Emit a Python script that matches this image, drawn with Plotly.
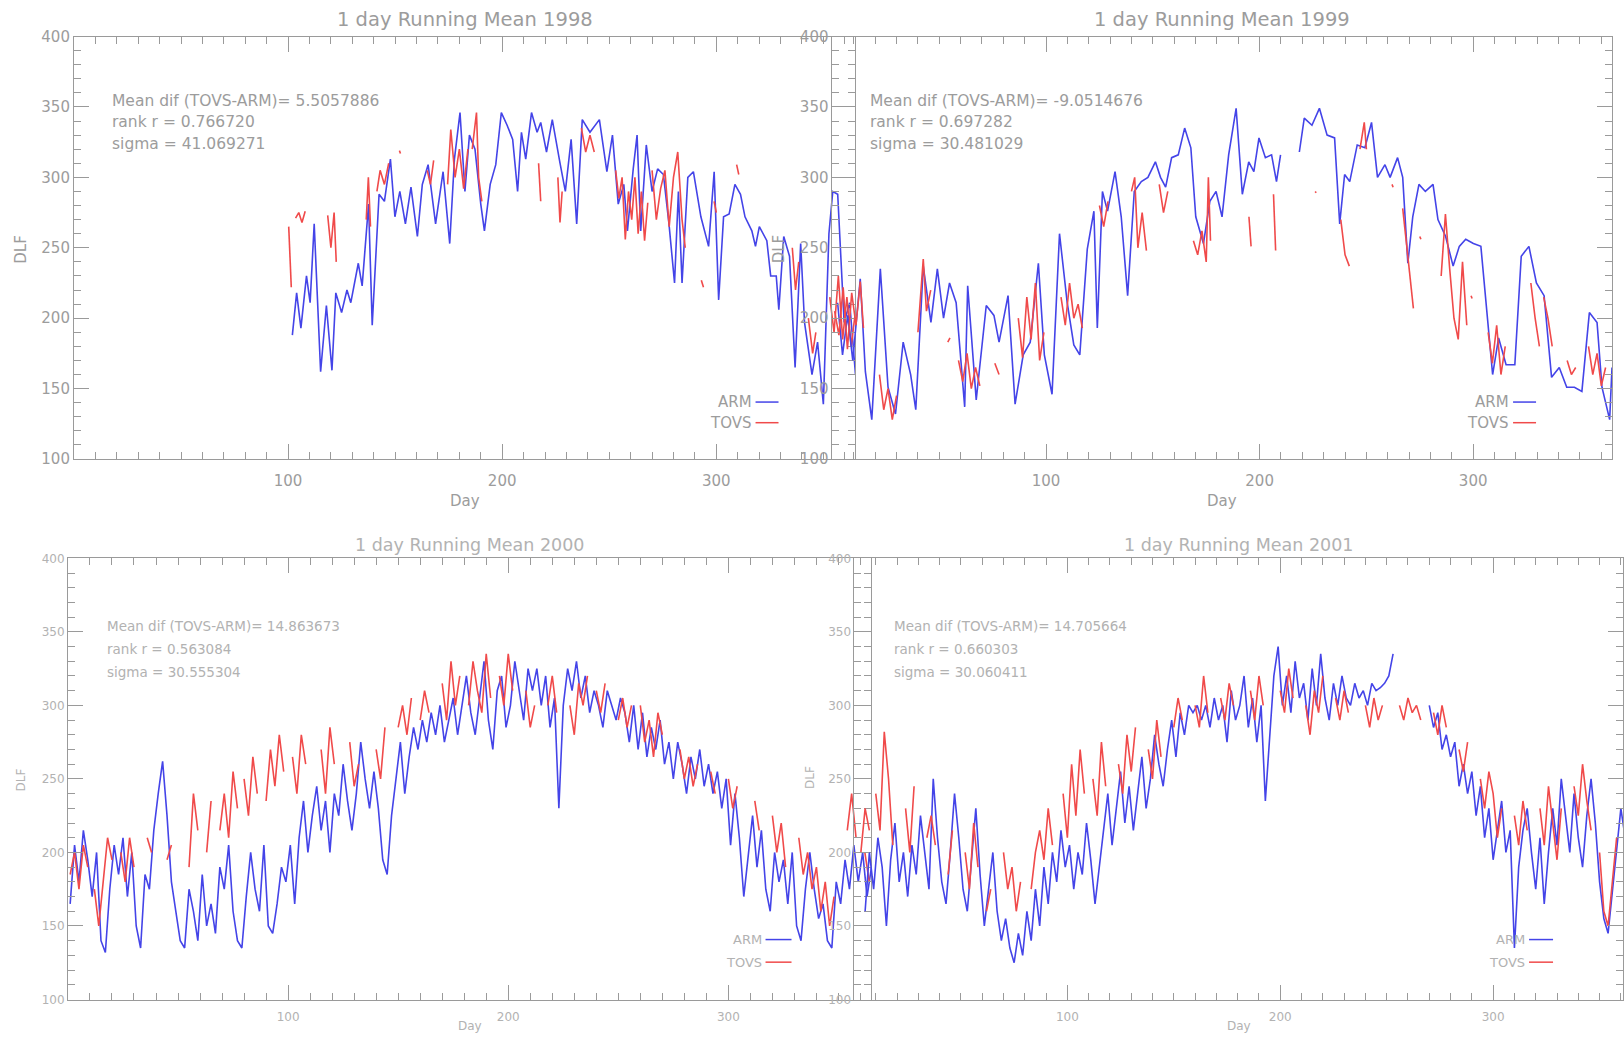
import plotly.graph_objects as go

W, H = 1624, 1037

# ---------------- data (day, DLF) ; None = gap ----------------
arm_1998 = [(102,188),(104,218),(106,193),(108.6,230),(110.3,211),(112.2,267),(115.2,162),(117.9,209),(120.5,163),(122.3,218),(125,204),(127.5,220),(129.3,211),(132.8,239),(134.6,223),(137.6,281),(139.3,195),(142.5,288),(145,283),(147.8,313),(149.9,272),(152.2,290),(154.8,267),(157.4,293),(160.4,258),(162.7,295),(165.4,309),(168.9,267),(172.4,304),(175.5,253),(177.7,313),(180.3,346),(182.6,290),(184.7,330),(187.3,320),(190,281),(191.7,262),(194.4,295),(197,309),(199.6,346),(202.3,337),(204.9,327),(207.2,290),(209,332),(211,313),(213.7,346),(216.3,332),(218,339),(220.7,318),(223.4,341),(226.9,311),(229.5,290),(232.2,327),(234.8,267),(237.4,341),(241,332),(245.4,341),(248.9,304),(251.5,330),(254.2,281),(256.8,295),(258.5,262),(261.2,306),(263,330),(264.7,262),(267.3,323),(270,290),(272.6,306),(275.3,302),(277.9,267),(280.5,225),(282.3,290),(284,225),(286.7,300),(289.3,304),(292.8,272),(296.4,251),(299,304),(301.1,213),(303.4,272),(306,274),(308.7,295),(311.3,288),(313.4,272),(316.6,262),(318.3,251),(320.1,265),(323.6,255),(325.4,230),(328,230),(329.2,206),(331.5,258),(334.2,244),(336.8,165),(339.4,253),(341.2,197),(344.7,160),(347.3,183),(350,139),(352.6,260),(354.4,290),(356.7,288),(359.7,197),(362.3,211),(365,160)]

tovs_1998 = [(100.3,265),(101.5,222),None,(103.5,271),(105,275),(106.5,268),(108,276),None,(118.5,273),(120,250),(121.5,275),(122.5,240),None,(136.5,270),(137.5,300),(138.5,265),None,(141.5,290),(143,305),(145,295),(147,310),None,(152,319),(152.5,317),None,(165,305),(166.5,295),(168,312),None,(174.5,295),(176,334),(178,300),(180,320),(182,292),(184,320),None,(186,320),(188,346),(189,300),(190.5,283),None,(217,310),(218,283),None,(226,300),(227,268),(228,290),None,(237,335),(239,318),(241,330),(243,318),None,(253,305),(254.5,285),(256,300),(257.5,256),(259,290),(260.5,270),(262,300),(263.5,260),(265,290),(266.5,255),(268,282),None,(270,305),(272,270),(274,292),(276,305),(278,265),(280,300),(282,318),(284,270),(285.5,250),None,(293,227),(294,222),None,(299,283),(300,275),None,(309.5,309),(310.5,302),None,(335.5,250),(337,220),(338.5,240),None,(343,200),(345,175),(346.5,190),None,(353,215),(355,190),(357,230),(359,185),(361,215),(363,180),(365,205)]

arm_1999 = [(2.4,211),(4.7,174),(7.1,202),(9.5,170),(13,228),(15.4,162),(18.4,128),(22.4,235),(26,151),(29.5,132),(33.1,183),(36.6,160),(39,135),(42.5,237),(46.1,197),(49.1,235),(52,200),(54.8,225),(57.9,211),(61.9,137),(63.3,223),(67.3,142),(72,209),(75.6,202),(78,183),(82.2,216),(85.5,139),(89.3,174),(92.6,183),(96.4,239),(99.2,174),(102.8,146),(106.3,260),(109.9,211),(113,181),(115.8,174),(119.3,249),(122.4,276),(124,193),(126.4,290),(128.8,276),(132.3,304),(135.2,272),(138.2,216),(141.3,290),(144.6,297),(147.7,300),(151.2,311),(153.6,300),(156,293),(158.8,314),(161.9,316),(164.9,335),(167.8,321),(170.1,272),(173.7,253),(176.7,283),(179.6,290),(182.4,272),(185.5,316),(189,349),(191.9,288),(194.9,311),(197.3,304),(199.7,328),(202.7,314),(205.6,316),(207.9,297),(209.8,316),None,(218.6,318),(220.9,342),(224.5,337),(228,349),(231.6,330),(235.1,328),(237.5,267),(239.8,302),(242.2,297),(245.7,323),(249.3,321),(252.4,339),(255.2,300),(258.7,309),(261.1,300),(264.6,314),(267,300),(269.4,239),(271.7,272),(274.6,295),(277.6,290),(281.2,295),(283.5,270),(287.1,258),(290.6,237),(293.5,251),(296.5,256),(300.1,253),(303.6,251),(306,211),(309.1,160),(311.9,186),(315.4,167),(319.5,167),(322.5,244),(326.1,251),(329.6,225),(333.2,216),(336.7,158),(340.3,165),(343.8,151),(347.4,151),(350.9,148),(354.4,204),(358,197),(360.3,151),(363.9,128),(365,165)]

tovs_1999 = [(1,205),(3,188),(5,222),(7,178),(9,218),(11,195),(13,226),(14.5,193),None,(22,160),(24,135),(26,150),(28,128),(30,145),None,(40,190),(42.5,242),(44,205),(46,220),None,(54,183),(55,186),None,(59,170),(61,155),(63,175),(65,150),(67,165),(69,152),None,(76,168),(78,160),None,(87,200),(89,172),(91,215),(93,185),(95,225),(97,170),(99,190),None,(107,215),(109,195),(111,225),(113,200),(115,210),(117,193),None,(125,280),(127,265),(129,283),None,(140,290),(141.5,300),(143,250),(145,275),(147,248),None,(153,295),(155,275),(157,290),None,(169,255),(171,245),(173,262),(175,240),(176,300),(177,255),None,(195,272),(196,251),None,(206.5,288),(207.5,248),None,(226,290),(226.5,289),None,(238,270),(240,245),(242,237),None,(247,320),(249,339),(250,320),None,(262,295),(262.5,293),None,(267,278),(269,250),(270.5,230),(272,207),None,(275,258),(275.5,256),None,(285,230),(287,274),(289,235),(291,200),(293,185),(295,240),(297,195),None,(299,216),(299.5,214),None,(307,190),(309,168),(311,195),(313,160),(315,180),None,(327,225),(329,200),(331,180),None,(333,215),(335,200),(337,180),None,(344,170),(346,160),(348,165),None,(354,180),(356,160),(358,175),(360,152),(362,165)]

arm_2000 = [(1,165),(3,205),(5,180),(7,215),(9,195),(11,170),(13,200),(15,140),(17,132),(19,175),(21,205),(23,185),(25,210),(27,170),(29,200),(31,150),(33,135),(35,185),(37,175),(39,215),(41,240),(43,262),(45,225),(47,180),(49,160),(51,140),(53,135),(55,175),(57,160),(59,140),(61,185),(63,150),(65,165),(67,145),(69,190),(71,175),(73,205),(75,160),(77,140),(79,135),(81,170),(83,200),(85,175),(87,160),(89,205),(91,150),(93,145),(95,165),(97,190),(99,180),(101,205),(103,165),(105,210),(107,235),(109,200),(111,225),(113,245),(115,215),(117,235),(119,200),(121,240),(123,225),(125,260),(127,235),(129,215),(131,240),(133,275),(135,250),(137,230),(139,255),(141,230),(143,195),(145,185),(147,225),(149,250),(151,275),(153,240),(155,265),(157,285),(159,270),(161,290),(163,275),(165,295),(167,280),(169,300),(171,275),(173,290),(175,305),(177,280),(179,300),(181,320),(183,295),(185,280),(187,305),(189,330),(191,290),(193,270),(195,310),(197,320),(199,285),(201,300),(203,330),(205,310),(207,290),(209,325),(211,310),(213,325),(215,300),(217,320),(219,285),(221,305),(223,230),(225,300),(227,325),(229,310),(231,330),(233,305),(235,320),(237,295),(239,310),(241,300),(243,285),(245,310),(247,300),(249,290),(251,305),(253,295),(255,275),(257,300),(259,270),(261,295),(263,265),(265,285),(267,270),(269,290),(271,260),(273,275),(275,250),(277,275),(279,260),(281,240),(283,265),(285,250),(287,270),(289,245),(291,260),(293,240),(295,255),(297,230),(299,250),(301,205),(303,240),(305,210),(307,170),(309,200),(311,225),(313,190),(315,215),(317,175),(319,160),(321,200),(323,180),(325,195),(327,165),(329,200),(331,150),(333,140),(335,175),(337,200),(339,175),(341,155),(343,165),(345,140),(347,135),(349,180),(351,165),(353,195),(355,175),(357,205),(359,180),(361,200),(363,170),(365,190)]

tovs_2000 = [(1,185),(3,200),(5,175),(7,205),(9,190),None,(12,175),(14,150),(16,180),(18,210),(20,195),None,(24,200),(26,180),(28,210),(30,190),None,(36,210),(38,200),None,(45,195),(47,205),None,(55,190),(57,240),(59,215),None,(63,200),(65,235),None,(69,215),(71,240),(73,210),(75,255),(77,230),None,(80,250),(82,225),(84,265),(86,240),None,(90,235),(92,270),(94,245),(96,280),(98,255),None,(102,265),(104,240),(106,280),(108,260),None,(115,270),(117,240),(119,285),(121,260),None,(128,275),(130,245),(132,260),None,(140,270),(142,250),(144,285),None,(150,285),(152,300),(154,280),(156,305),None,(160,290),(162,310),(164,295),None,(170,315),(172,290),(174,330),(176,300),(178,320),None,(182,300),(184,330),(186,310),(188,295),(190,335),(192,305),None,(196,320),(198,300),(200,335),(202,310),None,(208,310),(210,285),(212,300),None,(218,300),(220,320),(222,295),None,(228,300),(230,280),(232,315),(234,300),(236,320),None,(240,310),(242,295),(244,315),None,(250,290),(252,305),(254,285),(256,300),None,(260,300),(262,275),(264,290),(266,265),(268,295),(270,280),None,(278,270),(280,250),(282,265),(284,245),(286,260),None,(292,255),(294,240),None,(300,250),(302,230),(304,245),None,(312,235),(314,215),None,(320,225),(322,200),(324,220),(326,190),None,(332,210),(334,185),(336,200),(338,175),(340,190),(342,160),(344,180),(346,150),(348,170),None,(354,215),(356,240),(358,210),None,(362,200),(364,180)]

arm_2001 = [(5,160),(7,200),(9,175),(11,210),(13,190),(15,150),(17,195),(19,220),(21,180),(23,200),(25,170),(27,205),(29,185),(31,225),(33,200),(35,175),(37,250),(39,210),(41,180),(43,165),(45,200),(47,240),(49,210),(51,175),(53,160),(55,195),(57,230),(59,185),(61,150),(63,175),(65,200),(67,160),(69,140),(71,155),(73,135),(75,125),(77,145),(79,130),(81,160),(83,140),(85,175),(87,150),(89,190),(91,165),(93,200),(95,180),(97,215),(99,190),(101,205),(103,175),(105,200),(107,185),(109,220),(111,195),(113,165),(115,190),(117,215),(119,240),(121,205),(123,230),(125,255),(127,220),(129,245),(131,215),(133,240),(135,265),(137,230),(139,250),(141,280),(143,260),(145,245),(147,270),(149,290),(151,265),(153,295),(155,280),(157,300),(159,295),(161,300),(163,290),(165,300),(167,285),(169,305),(171,290),(173,300),(175,275),(177,310),(179,290),(181,300),(183,320),(185,285),(187,305),(189,275),(191,300),(193,235),(195,280),(197,320),(199,340),(201,300),(203,320),(205,295),(207,330),(209,305),(211,315),(213,290),(215,325),(217,300),(219,335),(221,305),(223,290),(225,315),(227,300),(229,320),(231,305),(233,300),(235,315),(237,305),(239,310),(241,300),(243,315),(245,310),(247,312),(249,315),(251,320),(253,335),None,(270,300),(272,285),(274,295),(276,270),(278,280),(280,265),(282,275),(284,245),(286,260),(288,240),(290,255),(292,225),(294,245),(296,210),(298,230),(300,195),(302,215),(304,235),(306,200),(308,215),(310,135),(312,190),(314,215),(316,230),(318,200),(320,175),(322,210),(324,165),(326,200),(328,230),(330,205),(332,250),(334,225),(336,200),(338,240),(340,210),(342,190),(344,225),(346,250),(348,220),(350,180),(352,155),(354,145),(356,175),(358,200),(360,230),(362,210)]

tovs_2001 = [(3,200),(5,230),(7,215),None,(10,240),(12,215),(14,282),(16,250),(18,205),None,(24,230),(26,200),(28,245),None,(34,210),(36,225),(38,205),None,(44,185),(46,215),None,(52,200),(54,175),(56,220),(58,190),None,(62,160),(64,175),None,(70,200),(72,175),(74,190),(76,160),(78,180),None,(83,175),(85,200),(87,215),(89,195),(91,230),(93,205),None,(98,240),(100,210),(102,260),(104,225),(106,270),(108,240),None,(112,250),(114,225),(116,275),(118,245),None,(124,260),(126,240),(128,280),(130,255),(132,285),None,(138,270),(140,250),(142,290),(144,265),None,(150,285),(152,305),(154,290),None,(160,300),(162,285),(164,320),(166,295),None,(172,305),(174,290),(176,315),(178,300),None,(186,310),(188,290),(190,320),(192,300),None,(200,310),(202,295),(204,325),(206,305),None,(212,300),(214,280),(216,310),(218,295),(220,320),None,(226,305),(228,290),(230,310),(232,295),None,(240,300),(242,285),(244,305),(246,290),(248,300),None,(256,300),(258,290),(260,305),(262,295),(264,300),(266,290),None,(272,295),(274,280),(276,300),(278,285),None,(284,270),(286,255),(288,275),None,(294,250),(296,230),(298,255),(300,240),(302,210),(304,230),None,(310,225),(312,205),(314,235),(316,215),None,(322,230),(324,205),(326,245),(328,220),(330,195),(332,230),None,(338,245),(340,225),(342,260),(344,235),(346,215),None,(350,200),(352,160),(354,150),(356,180),(358,210)]

stats_1998 = ["Mean dif (TOVS-ARM)= 5.5057886", "rank r = 0.766720", "sigma = 41.069271"]
stats_1999 = ["Mean dif (TOVS-ARM)= -9.0514676", "rank r = 0.697282", "sigma = 30.481029"]
stats_2000 = ["Mean dif (TOVS-ARM)= 14.863673", "rank r = 0.563084", "sigma = 30.555304"]
stats_2001 = ["Mean dif (TOVS-ARM)= 14.705664", "rank r = 0.660303", "sigma = 30.060411"]

x_ticks = [100, 200, 300]
y_ticks = [100, 150, 200, 250, 300, 350, 400]

# ---------------- layout geometry (pixels) ----------------
panels = [
    dict(year="1998", arm=arm_1998, tovs=tovs_1998, stats=stats_1998,
         x0=74, x1=856, y0=28, y1=458, xmax=365, fs=15, sfs=15.5, tfs=19.5, lfs=15, col="#9c9c9c",
         sx=110, sy=[94, 115, 137], ty=11, dayy=501, dlf=(21, 244), stand=8,
         leg=(756, 779, 400, 421)),
    dict(year="1999", arm=arm_1999, tovs=tovs_1999, stats=stats_1999,
         x0=833, x1=1613, y0=28, y1=458, xmax=365, fs=15, sfs=15.5, tfs=19.5, lfs=15, col="#9c9c9c",
         sx=869, sy=[94, 115, 137], ty=11, dayy=501, dlf=(779, 244), stand=8,
         leg=(1514, 1537, 400, 421)),
    dict(year="2000", arm=arm_2000, tovs=tovs_2000, stats=stats_2000,
         x0=68, x1=872, y0=559, y1=1008, xmax=365, fs=12, sfs=13.5, tfs=17.5, lfs=13, col="#b2b2b2",
         sx=105, sy=[628, 651, 675], ty=545, dayy=1035, dlf=(21, 784), stand=6,
         leg=(766, 792, 947, 970)),
    dict(year="2001", arm=arm_2001, tovs=tovs_2001, stats=stats_2001,
         x0=855, x1=1624, y0=559, y1=1008, xmax=361, fs=12, sfs=13.5, tfs=17.5, lfs=13, col="#b2b2b2",
         sx=893, sy=[628, 651, 675], ty=545, dayy=1035, dlf=(811, 782), stand=6,
         leg=(1530, 1554, 947, 970)),
]

FONT = "DejaVu Sans"
LINE = "#9a9a9a"
BLUE = "#4444e8"
RED = "#f04a4a"


def split(pairs):
    xs, ys = [], []
    for p in pairs:
        if p is None:
            xs.append(None); ys.append(None)
        else:
            xs.append(p[0]); ys.append(p[1])
    return xs, ys


def px(x):
    return x / W


def py(y):
    return 1 - y / H


fig = go.Figure()
annotations = []
shapes = []
layout = {}

for i, p in enumerate(panels, start=1):
    sfx = "" if i == 1 else str(i)
    xa, ya = "x" + sfx, "y" + sfx
    bx, by = split(p["arm"])
    tx, ty_ = split(p["tovs"])
    fig.add_trace(go.Scatter(x=bx, y=by, mode="lines", line=dict(color=BLUE, width=1.6),
                             xaxis=xa, yaxis=ya, showlegend=False, hoverinfo="skip"))
    fig.add_trace(go.Scatter(x=tx, y=ty_, mode="lines", line=dict(color=RED, width=1.6),
                             xaxis=xa, yaxis=ya, showlegend=False, hoverinfo="skip"))
    common = dict(showline=True, linecolor=LINE, linewidth=1, mirror="allticks",
                  ticks="inside", ticklen=15, tickcolor=LINE, tickwidth=1,
                  showgrid=False, zeroline=False,
                  tickfont=dict(family=FONT, size=p["fs"], color=p["col"]))
    layout["xaxis" + sfx] = dict(common, domain=[px(p["x0"]), px(p["x1"])], range=[0, p["xmax"]],
                                 anchor=ya, tickmode="array", tickvals=x_ticks,
                                 ticktext=[str(v) for v in x_ticks],
                                 ticklabelstandoff=p["stand"],
                                 minor=dict(tickmode="linear", tick0=0, dtick=10, ticks="inside",
                                            ticklen=7, tickcolor=LINE, showgrid=False))
    layout["yaxis" + sfx] = dict(common, domain=[py(p["y1"]), py(p["y0"])], range=[100, 400],
                                 anchor=xa, tickmode="array", tickvals=y_ticks,
                                 ticktext=[str(v) for v in y_ticks],
                                 minor=dict(tickmode="linear", tick0=100, dtick=10, ticks="inside",
                                            ticklen=7, tickcolor=LINE, showgrid=False))
    cx = (p["x0"] + p["x1"]) / 2
    annotations.append(dict(text="1 day Running Mean " + p["year"], x=px(cx), y=py(p["ty"]),
                            xref="paper", yref="paper", showarrow=False, xanchor="center",
                            yanchor="middle", font=dict(family=FONT, size=p["tfs"], color=p["col"])))
    annotations.append(dict(text="Day", x=px(cx), y=py(p["dayy"]), xref="paper", yref="paper",
                            showarrow=False, xanchor="center", yanchor="middle",
                            font=dict(family=FONT, size=p["fs"], color=p["col"])))
    annotations.append(dict(text="DLF", x=px(p["dlf"][0]), y=py(p["dlf"][1]), xref="paper",
                            yref="paper", showarrow=False, textangle=-90, xanchor="center",
                            yanchor="middle", font=dict(family=FONT, size=p["fs"], color=p["col"])))
    for line_txt, yy in zip(p["stats"], p["sy"]):
        annotations.append(dict(text=line_txt, x=px(p["sx"]), y=py(yy), xref="paper", yref="paper",
                                showarrow=False, xanchor="left", yanchor="middle",
                                font=dict(family=FONT, size=p["sfs"], color=p["col"])))
    lx0, lx1, ly_arm, ly_tovs = p["leg"]
    for name, yy, colr in (("ARM", ly_arm, BLUE), ("TOVS", ly_tovs, RED)):
        annotations.append(dict(text=name, x=px(lx0 - 2), y=py(yy), xref="paper", yref="paper",
                                showarrow=False, xanchor="right", yanchor="middle",
                                font=dict(family=FONT, size=p["lfs"], color=p["col"])))
        shapes.append(dict(type="line", xref="paper", yref="paper", x0=px(lx0), x1=px(lx1),
                           y0=py(yy), y1=py(yy), line=dict(color=colr, width=1.5)))

fig.update_layout(width=W, height=H, autosize=False,
                  margin=dict(l=0, r=0, t=0, b=0, pad=0),
                  paper_bgcolor="white", plot_bgcolor="rgba(0,0,0,0)",
                  annotations=annotations, shapes=shapes, **layout)

fig.write_html("out.html", config={"displayModeBar": False},
               post_script=("var gd=document.getElementById('{plot_id}');"
                            "gd.style.position='fixed';gd.style.left='0px';gd.style.top='0px';"
                            "document.body.style.margin='0';document.body.style.padding='0';"
                            "document.body.style.overflow='hidden';"
                            "document.documentElement.style.overflow='hidden';"))
